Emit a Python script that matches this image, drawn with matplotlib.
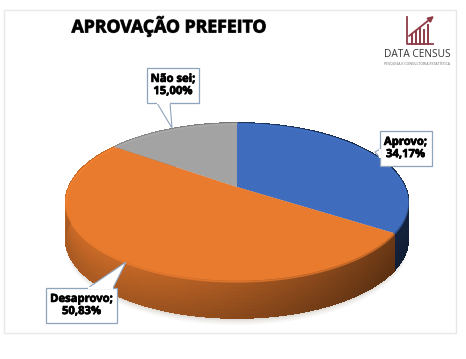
import numpy as np
import matplotlib
matplotlib.use("Agg")
import matplotlib.pyplot as plt
from matplotlib.collections import PolyCollection
from matplotlib.patches import Polygon, Rectangle
import matplotlib.patheffects as pe

# ---- data
categories = ["Aprovo", "Desaprovo", "Não sei"]
values = [34.17, 50.83, 15.00]
value_labels = ["34,17%", "50,83%", "15,00%"]
title = "APROVAÇÃO PREFEITO"

# ---- style
top_colors = ["#3F6CBC", "#E97B2E", "#A3A3A3"]
CX, CY, A, B, K = 237, 187, 168, 76, 0.19
DEPTH = 37

def project(theta):
    u, v = np.sin(theta), np.cos(theta)
    d = 1 + K * v
    return CX + A * u / d, CY - B * v / d

def shade(color, f):
    c = np.array(matplotlib.colors.to_rgb(color))
    return tuple(np.clip(c * f, 0, 1))

fig = plt.figure(figsize=(4.66, 3.59), dpi=100, facecolor="white")
ax = fig.add_axes([0, 0, 1, 1])
ax.set_xlim(0, 466)
ax.set_ylim(359, 0)
ax.axis("off")

# frame
ax.add_patch(Rectangle((4, 10), 452, 323, fill=False, ec="#E8E8E8", lw=1.0))

# soft shadow
tt = np.linspace(0, 2 * np.pi, 200)
sx, sy = project(tt)
for off, a in [(7, 0.05), (5, 0.07), (3, 0.09), (1.5, 0.1)]:
    ax.add_patch(Polygon(np.c_[sx, sy + DEPTH + off], fc="#7a6a5a", ec="none", alpha=a, zorder=1))

# wedges
edges = np.cumsum([0] + values) / sum(values) * 2 * np.pi
polys, cols = [], []
levels = np.linspace(0, 1, 11)
for i, col in enumerate(top_colors):
    th = np.linspace(edges[i], edges[i + 1], max(int((edges[i + 1] - edges[i]) * 70), 4))
    x, y = project(th)
    for j in range(len(th) - 1):
        xm = (x[j] + x[j + 1]) / 2
        fx = 0.88 - 0.42 * np.clip((xm - 90) / 310, 0, 1) ** 1.3
        for h0, h1 in zip(levels[:-1], levels[1:]):
            hm = (h0 + h1) / 2
            f = fx * (1.0 - 0.18 * hm)
            if i == 0:
                f *= 0.72
            polys.append([(x[j], y[j] + DEPTH * h0), (x[j + 1], y[j + 1] + DEPTH * h0),
                          (x[j + 1], y[j + 1] + DEPTH * h1), (x[j], y[j] + DEPTH * h1)])
            cols.append(shade(col, f))
ax.add_collection(PolyCollection(polys, facecolors=cols, edgecolors=cols, linewidths=0.8,
                                 antialiaseds=False, zorder=2))

for i, col in enumerate(top_colors):
    th = np.linspace(edges[i], edges[i + 1], 120)
    x, y = project(th)
    ax.add_patch(Polygon(np.r_[[[CX, CY]], np.c_[x, y]], fc=col, ec="none", zorder=3))
    # bevel highlight along the rim
    ax.plot(x, y + 1.0, color=shade(col, 1.08), lw=1.2, alpha=0.6, zorder=4, solid_capstyle="butt")

# callouts
box_pos = [(405.5, 148.5, 52, 35), (81.5, 305.5, 71, 35), (173, 85.5, 52, 35)]
tips = [(375, 152), (126, 262), (172, 128)]
roots = [(380, 149, 380, 158), (88, 288, 113, 288), (157, 103, 170, 103)]
for cat, lab, (bx, by, bw, bh), (tx, ty), (r0, r1, r2, r3) in zip(categories, value_labels, box_pos, tips, roots):
    ax.add_patch(Rectangle((bx - bw / 2, by - bh / 2), bw, bh, fc="white", ec="#8FA3BC", lw=0.9, zorder=6))
    ax.add_patch(Polygon([(r0, r1), (tx, ty), (r2, r3)], closed=True, fc="white", ec="#8FA3BC", lw=0.8, zorder=6))
    ax.plot([r0, r2], [r1, r3], color="white", lw=1.6, zorder=7, solid_capstyle="butt")
    ax.text(bx, by, f"{cat};\n{lab}", ha="center", va="center", fontsize=8.1, fontweight="bold",
            family="Open Sans", color="black", linespacing=1.15, zorder=8,
            path_effects=[pe.withStroke(linewidth=0.5, foreground="black")])

# title
ax.text(169, 26, title, ha="center", va="center", fontsize=12.7, fontweight="bold", family="Open Sans",
        color="black", path_effects=[pe.withStroke(linewidth=0.7, foreground="#333333")])

# logo
logo = "#8E3B46"
ax.plot([407, 407, 433], [17, 44, 44], color=logo, lw=1.3)
for bxp, bh in zip([412, 416, 420, 424, 428], [9, 13, 16, 14, 19]):
    ax.plot([bxp, bxp], [44, 44 - bh], color=logo, lw=1.4)
ax.annotate("", xy=(434, 16), xytext=(409, 36),
            arrowprops=dict(arrowstyle="-|>", color=logo, lw=1.3, mutation_scale=8, shrinkA=0, shrinkB=0))
ax.text(417.5, 54.5, "DATA CENSUS", ha="center", va="center", fontsize=7.3, family="Open Sans", color="#333333")
ax.text(417, 64, "PESQUISA E CONSULTORIA ESTATÍSTICA", ha="center", va="center", fontsize=2.5,
        family="Open Sans", color="#666666")

fig.savefig("out.png", dpi=100, facecolor="white")
